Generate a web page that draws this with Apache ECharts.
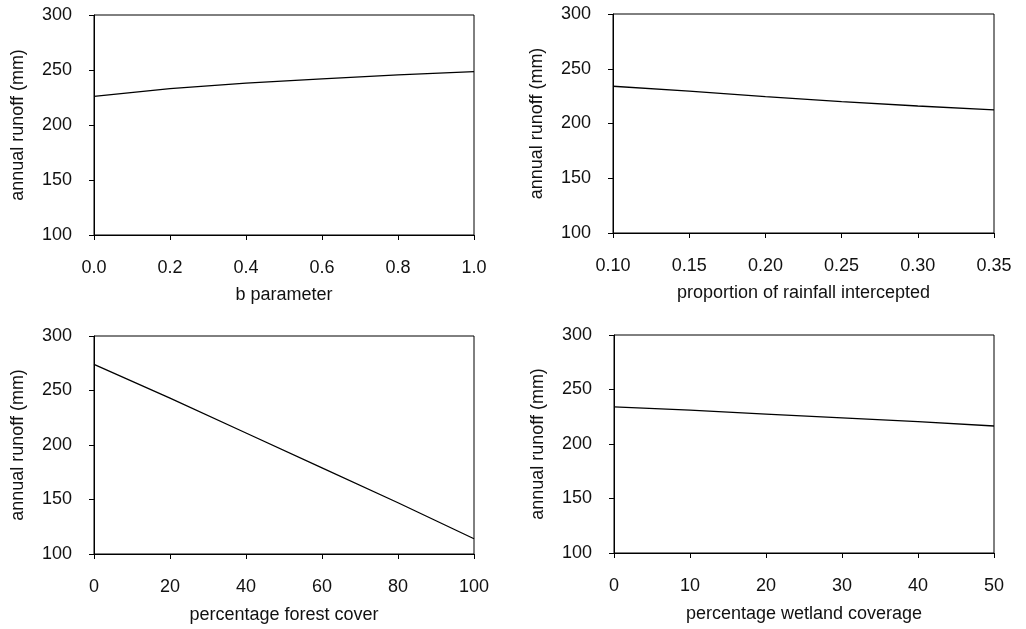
<!DOCTYPE html>
<html>
<head>
<meta charset="utf-8">
<script src="https://cdn.jsdelivr.net/npm/echarts@6/dist/echarts.min.js"></script>
<style>
  html, body { margin: 0; padding: 0; background: #fff; }
  #chart { width: 1026px; height: 629px; }
</style>
</head>
<body>
<div id="chart"></div>
<script>
// values
var bParam = [0.0, 0.2, 0.4, 0.6, 0.8, 1.0];
var bRunoff = [226, 233, 238, 242, 245.5, 248.5];

var interception = [0.10, 0.15, 0.20, 0.25, 0.30, 0.35];
var interceptionRunoff = [234, 229.5, 224.5, 220, 216, 212.5];

var forestCover = [0, 20, 40, 60, 80, 100];
var forestRunoff = [274, 243, 211, 179, 147, 114];

var wetlandCover = [0, 10, 20, 30, 40, 50];
var wetlandRunoff = [234, 231, 227.5, 224, 220.5, 216.5];

var yName = 'annual runoff (mm)';
var font = '"Liberation Sans", Arial, Helvetica, sans-serif';
var ink = '#111';

function pairs(xs, ys) {
	var out = [];
	for (var i = 0; i < xs.length; i++) {
		out.push([xs[i], ys[i]]);
	}
	return out;
}

function xAxisFor(idx, name, min, max, step, digits, gap) {
	return {
		type : 'value',
		gridIndex : idx,
		min : min,
		max : max,
		interval : step,
		name : name,
		nameLocation : 'middle',
		nameGap : gap,
		nameTextStyle : { color : ink, fontSize : 18, fontFamily : font },
		axisLine : { show : true, lineStyle : { color : '#000', width : 1 } },
		axisTick : { show : true, length : 5, lineStyle : { color : '#000' } },
		splitLine : { show : false },
		axisLabel : {
			margin : 24,
			color : ink,
			fontSize : 18,
			fontFamily : font,
			formatter : function (v) { return v.toFixed(digits); }
		}
	};
}

function yAxisFor(idx) {
	return {
		type : 'value',
		gridIndex : idx,
		min : 100,
		max : 300,
		interval : 50,
		name : yName,
		nameLocation : 'middle',
		nameGap : 67,
		nameTextStyle : { color : ink, fontSize : 18, fontFamily : font },
		axisLine : { show : true, lineStyle : { color : '#000', width : 1 } },
		axisTick : { show : true, length : 5, lineStyle : { color : '#000' } },
		splitLine : { show : false },
		axisLabel : { margin : 22, color : ink, fontSize : 18, fontFamily : font }
	};
}

function lineFor(idx, xs, ys) {
	return {
		type : 'line',
		xAxisIndex : idx,
		yAxisIndex : idx,
		data : pairs(xs, ys),
		showSymbol : false,
		lineStyle : { color : '#000', width : 1.3 },
		silent : true
	};
}

var gridStyle = { show : true, borderColor : '#000', borderWidth : 1, backgroundColor : 'transparent' };

var option = {
	animation : false,
	backgroundColor : '#fff',
	grid : [
		Object.assign({ left : 94, top : 15, width : 380, height : 220 }, gridStyle),
		Object.assign({ left : 613, top : 14, width : 381, height : 219 }, gridStyle),
		Object.assign({ left : 94, top : 336, width : 380, height : 218 }, gridStyle),
		Object.assign({ left : 614, top : 335, width : 380, height : 218 }, gridStyle)
	],
	xAxis : [
		xAxisFor(0, 'b parameter', 0, 1, 0.2, 1, 51),
		xAxisFor(1, 'proportion of rainfall intercepted', 0.1, 0.35, 0.05, 2, 51),
		xAxisFor(2, 'percentage forest cover', 0, 100, 20, 0, 52),
		xAxisFor(3, 'percentage wetland coverage', 0, 50, 10, 0, 52)
	],
	yAxis : [ yAxisFor(0), yAxisFor(1), yAxisFor(2), yAxisFor(3) ],
	series : [
		lineFor(0, bParam, bRunoff),
		lineFor(1, interception, interceptionRunoff),
		lineFor(2, forestCover, forestRunoff),
		lineFor(3, wetlandCover, wetlandRunoff)
	]
};

var myChart = echarts.init(document.getElementById('chart'));
myChart.setOption(option);
</script>
</body>
</html>
